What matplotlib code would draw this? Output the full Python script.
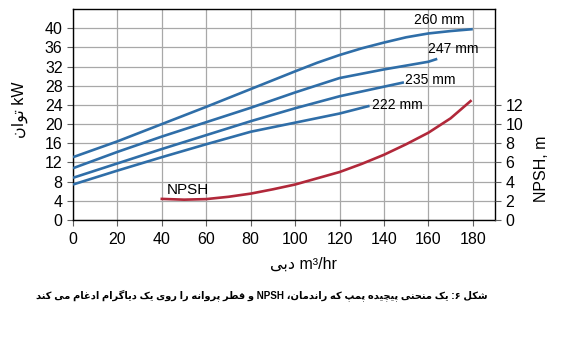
import matplotlib
matplotlib.use("Agg")
import matplotlib.pyplot as plt

# ---------------- data ----------------
flow_260 = [0, 20, 40, 60, 80, 100, 110, 120, 130, 140, 150, 160, 170, 180]
power_260 = [13.1, 16.4, 20.0, 23.6, 27.3, 31.0, 32.8, 34.4, 35.8, 37.0, 38.1, 38.9, 39.4, 39.8]

flow_247 = [0, 20, 40, 60, 80, 100, 120, 140, 160, 164]
power_247 = [10.8, 14.2, 17.4, 20.4, 23.4, 26.6, 29.6, 31.4, 33.0, 33.6]

flow_235 = [0, 20, 40, 60, 80, 100, 120, 140, 149]
power_235 = [8.8, 11.8, 14.8, 17.7, 20.6, 23.3, 25.8, 27.8, 28.7]

flow_222 = [0, 20, 40, 60, 80, 100, 120, 133.5]
power_222 = [7.4, 10.3, 13.1, 15.8, 18.4, 20.3, 22.2, 23.8]

flow_npsh = [40, 50, 60, 70, 80, 90, 100, 110, 120, 130, 140, 150, 160, 170, 179]
npsh_m = [2.2, 2.12, 2.18, 2.42, 2.75, 3.2, 3.7, 4.35, 5.0, 5.85, 6.8, 7.9, 9.1, 10.6, 12.4]

curve_labels = ["260 mm", "247 mm", "235 mm", "222 mm"]
x_ticks = [0, 20, 40, 60, 80, 100, 120, 140, 160, 180]
y_ticks = [0, 4, 8, 12, 16, 20, 24, 28, 32, 36, 40]
y2_ticks = [0, 2, 4, 6, 8, 10, 12]

ylabel_text = "توان kW"
xlabel_text = "دبی m³/hr"
y2label_text = "NPSH, m"
caption_text = "شکل ۶: یک منحنی پیچیده پمپ که راندمان، NPSH و قطر پروانه را روی یک دیاگرام ادغام می کند"

# ------------- simple Persian shaping (visual order) -------------
FORMS = {
    'ا': ('\uFE8D', '\uFE8E', None, None),
    'د': ('\uFEA9', '\uFEAA', None, None),
    'ر': ('\uFEAD', '\uFEAE', None, None),
    'و': ('\uFEED', '\uFEEE', None, None),
    'ب': ('\uFE8F', '\uFE90', '\uFE91', '\uFE92'),
    'ت': ('\uFE95', '\uFE96', '\uFE97', '\uFE98'),
    'ش': ('\uFEB5', '\uFEB6', '\uFEB7', '\uFEB8'),
    'ل': ('\uFEDD', '\uFEDE', '\uFEDF', '\uFEE0'),
    'م': ('\uFEE1', '\uFEE2', '\uFEE3', '\uFEE4'),
    'ن': ('\uFEE5', '\uFEE6', '\uFEE7', '\uFEE8'),
    'ح': ('\uFEA1', '\uFEA2', '\uFEA3', '\uFEA4'),
    'ه': ('\uFEE9', '\uFEEA', '\uFEEB', '\uFEEC'),
    'ق': ('\uFED5', '\uFED6', '\uFED7', '\uFED8'),
    'ط': ('\uFEC1', '\uFEC2', '\uFEC3', '\uFEC4'),
    'غ': ('\uFECD', '\uFECE', '\uFECF', '\uFED0'),
    'ی': ('\uFBFC', '\uFBFD', '\uFBFE', '\uFBFF'),
    'ک': ('\uFB8E', '\uFB8F', '\uFB90', '\uFB91'),
    'پ': ('\uFB56', '\uFB57', '\uFB58', '\uFB59'),
    'چ': ('\uFB7A', '\uFB7B', '\uFB7C', '\uFB7D'),
    'گ': ('\uFB92', '\uFB93', '\uFB94', '\uFB95'),
}


def is_ar(c):
    return c in FORMS


def shape_word(w):
    out = []
    n = len(w)
    for i, c in enumerate(w):
        if not is_ar(c):
            out.append(c)
            continue
        iso, fin, ini, med = FORMS[c]
        prev_join = i > 0 and is_ar(w[i - 1]) and FORMS[w[i - 1]][2] is not None
        next_join = ini is not None and i + 1 < n and is_ar(w[i + 1])
        if prev_join and next_join:
            out.append(med)
        elif prev_join:
            out.append(fin)
        elif next_join:
            out.append(ini)
        else:
            out.append(iso)
    return out


def visual(text):
    tokens = text.split(' ')
    vis = []
    for t in tokens:
        if any(is_ar(c) or c in '۶،' for c in t):
            vis.append(''.join(reversed(shape_word(t))))
        else:
            vis.append(t)
    return ' '.join(reversed(vis))


def visual_mixed(text):
    # Arabic word first (shown left), then latin part
    parts = text.split(' ', 1)
    return ''.join(reversed(shape_word(parts[0]))) + ' ' + parts[1]


FONT = ['Liberation Sans', 'DejaVu Sans']
plt.rcParams['font.family'] = FONT

BLUE = '#2f6ea8'
RED = '#b1283a'
GRID = '#a8a8a8'

fig = plt.figure(figsize=(5.64, 3.62), dpi=100)
ax = fig.add_axes([73 / 564, 1 - 220 / 362, (495 - 73) / 564, (220 - 9) / 362])

for fx, py in [(flow_260, power_260), (flow_247, power_247),
               (flow_235, power_235), (flow_222, power_222)]:
    ax.plot(fx, py, color=BLUE, lw=1.9, solid_capstyle='butt', zorder=3)

ax.set_xlim(0, 190)
ax.set_ylim(0, 44)
ax.set_xticks(x_ticks)
ax.set_yticks(y_ticks)
ax.grid(True, color=GRID, lw=0.9)
ax.set_axisbelow(True)
ax.tick_params(axis='both', labelsize=11.5, length=4, width=0.8, color='#606060')
ax.tick_params(axis='x', pad=5)
for s in ax.spines.values():
    s.set_linewidth(1.0)
    s.set_color('black')

label_pos = [(165, 41.7), (171, 35.6), (161, 29.2), (146, 24.0)]
for lab, (lx, ly) in zip(curve_labels, label_pos):
    ax.text(lx, ly, lab, fontsize=10, ha='center', va='center', zorder=4)

ax2 = ax.twinx()
ax2.set_ylim(0, 22)
ax2.set_yticks(y2_ticks)
ax2.plot(flow_npsh, npsh_m, color=RED, lw=1.9, zorder=3)
ax2.tick_params(axis='y', labelsize=11.5, length=4, width=0.8, color='#606060')
for s in ax2.spines.values():
    s.set_visible(False)
ax.text(51.5, 6.3, "NPSH", fontsize=11, ha='center', va='center')

fig.text(20 / 564, 1 - 110 / 362, visual_mixed(ylabel_text), rotation=90,
         fontsize=11.5, ha='center', va='center', family=FONT)
fig.text(542 / 564, 1 - 169 / 362, y2label_text, rotation=90,
         fontsize=11.5, ha='center', va='center')
fig.text(303 / 564, 1 - 264 / 362, visual_mixed(xlabel_text),
         fontsize=11.5, ha='center', va='center', family=FONT)
fig.text(262 / 564, 1 - 295 / 362, visual(caption_text), fontsize=7.1,
         fontweight='bold', ha='center', va='center', family=FONT)

fig.savefig('out.png', dpi=100, facecolor='white')
